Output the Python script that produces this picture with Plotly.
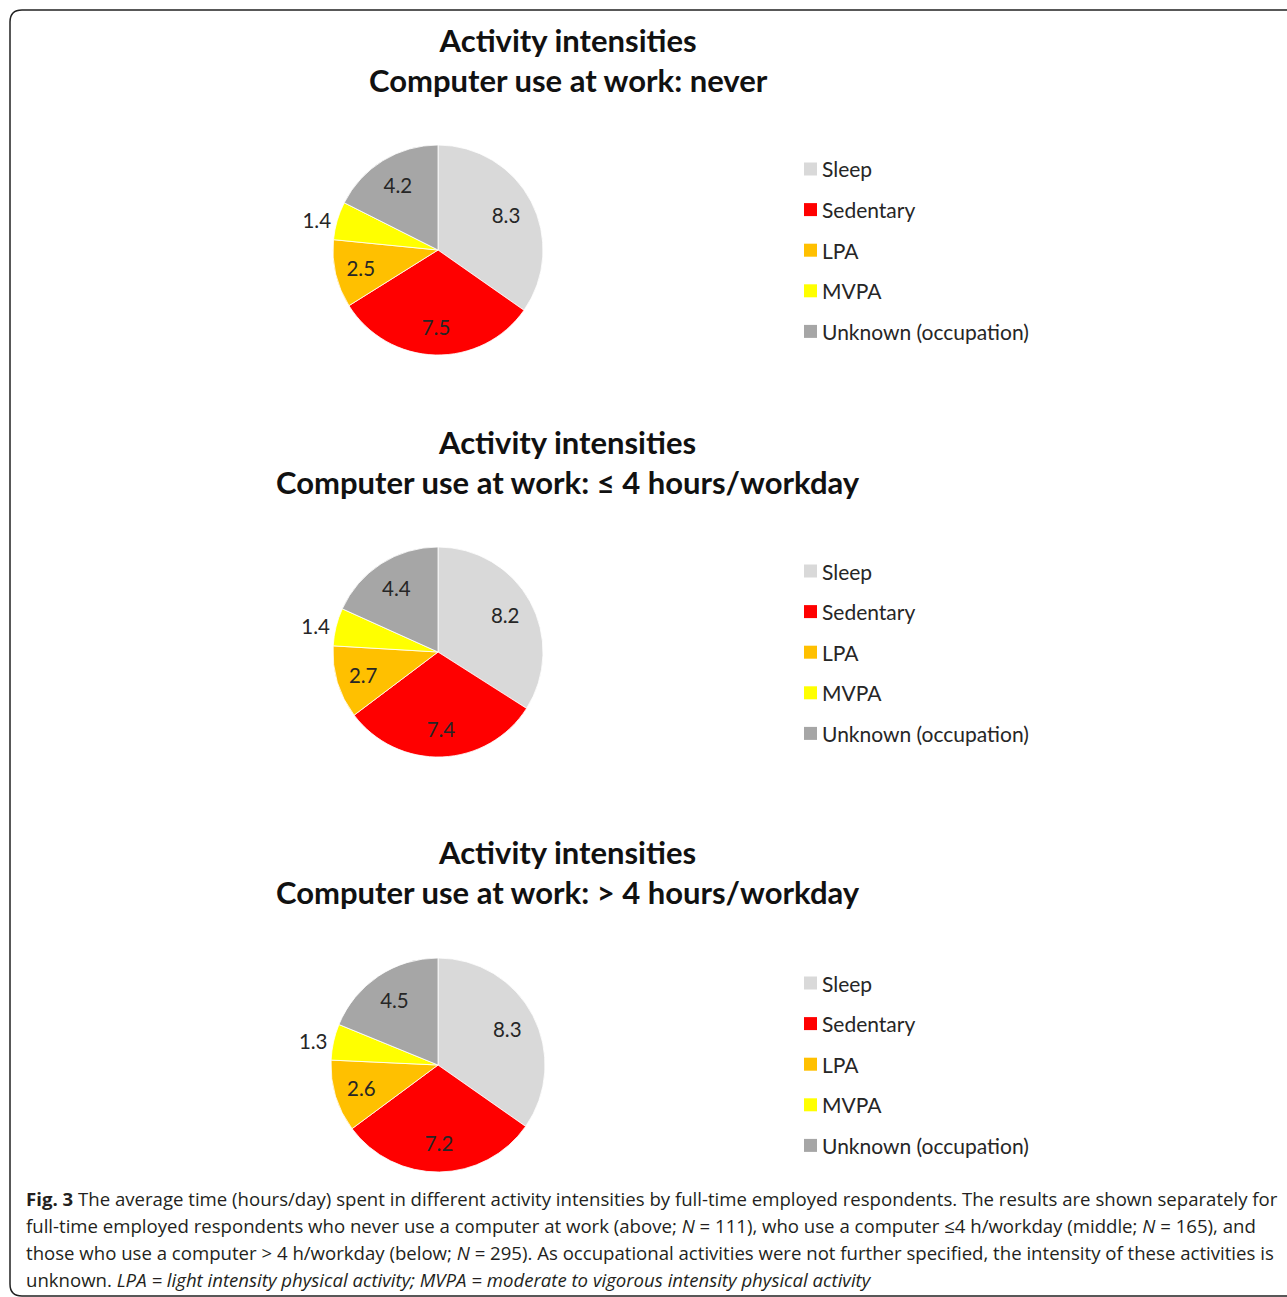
import plotly.graph_objects as go

W, H = 1287, 1297

categories = ["Sleep", "Sedentary", "LPA", "MVPA", "Unknown (occupation)"]
colors = ["#D9D9D9", "#FF0000", "#FFC000", "#FFFF00", "#A6A6A6"]
values_never = [8.3, 7.5, 2.5, 1.4, 4.2]
values_le4 = [8.2, 7.4, 2.7, 1.4, 4.4]
values_gt4 = [8.3, 7.2, 2.6, 1.3, 4.5]
text_positions = ["inside", "inside", "inside", "outside", "inside"]

titles = [
    "Activity intensities<br>Computer use at work: never",
    "Activity intensities<br>Computer use at work: ≤ 4 hours/workday",
    "Activity intensities<br>Computer use at work: > 4 hours/workday",
]

caption_lines = [
    "<b>Fig. 3</b> The average time (hours/day) spent in different activity intensities by full-time employed respondents. The results are shown separately for",
    "full-time employed respondents who never use a computer at work (above; <i>N</i> = 111), who use a computer ≤4 h/workday (middle; <i>N</i> = 165), and",
    "those who use a computer > 4 h/workday (below; <i>N</i> = 295). As occupational activities were not further specified, the intensity of these activities is",
    "unknown. <i>LPA = light intensity physical activity; MVPA = moderate to vigorous intensity physical activity</i>",
]

# layout (pixels)
pies = [
    dict(values=values_never, cx=438, cy=250, r=105, title_y=60, legend_y=169),
    dict(values=values_le4, cx=438, cy=652, r=105, title_y=462, legend_y=571),
    dict(values=values_gt4, cx=438, cy=1065, r=107, title_y=872, legend_y=983),
]
legend_step = 40.6
FONT = "Lato, Carlito, sans-serif"


def px(x):
    return x / W


def py(y):
    return 1 - y / H


fig = go.Figure()
annotations = []
shapes = []

for i, p in enumerate(pies):
    dom = dict(x=[px(p["cx"] - p["r"]), px(p["cx"] + p["r"])],
               y=[py(p["cy"] + p["r"]), py(p["cy"] - p["r"])])
    # filled slices
    fig.add_trace(go.Pie(
        labels=categories, values=p["values"], sort=False,
        direction="clockwise", rotation=0,
        marker=dict(colors=colors, line=dict(color="white", width=0.8)),
        textinfo="none", showlegend=False, hoverinfo="label+value",
        domain=dom,
    ))
    # value labels (annular layer places labels further out, like the original)
    fig.add_trace(go.Pie(
        labels=categories, values=p["values"], sort=False,
        direction="clockwise", rotation=0, hole=0.46,
        marker=dict(colors=["rgba(0,0,0,0)"] * len(categories),
                    line=dict(width=0)),
        textinfo="value", texttemplate="%{value:.1f}",
        textposition=text_positions,
        insidetextorientation="horizontal",
        textfont=dict(family=FONT, size=20.5, color="#262626"),
        showlegend=False, hoverinfo="skip",
        domain=dom,
    ))
    annotations.append(dict(
        x=px(568), y=py(p["title_y"]), xref="paper", yref="paper",
        text="<b>" + titles[i] + "</b>", showarrow=False,
        font=dict(family=FONT, size=31, color="#111111"),
        xanchor="center", yanchor="middle", align="center",
    ))
    for j, cat in enumerate(categories):
        yc = p["legend_y"] + j * legend_step
        shapes.append(dict(
            type="rect", xref="paper", yref="paper",
            x0=px(804), x1=px(817), y0=py(yc + 6.5), y1=py(yc - 6.5),
            fillcolor=colors[j], line=dict(width=0),
        ))
        annotations.append(dict(
            x=px(820), y=py(yc), xref="paper", yref="paper",
            text=cat, showarrow=False, xanchor="left", yanchor="middle",
            font=dict(family=FONT, size=21, color="#262626"),
        ))

cap_y0 = 1198
for k, line in enumerate(caption_lines):
    annotations.append(dict(
        x=px(24), y=py(cap_y0 + k * 27), xref="paper", yref="paper",
        text=line, showarrow=False, xanchor="left", yanchor="middle",
        font=dict(family="Open Sans, sans-serif", size=18.6, color="#231f20"),
    ))

# rounded border (open on the right)
x0, top, bot = px(10), py(10), py(1296)
rx, ry = 12 / W, 12 / H
path = (f"M 1.01,{top} L {x0 + rx},{top} Q {x0},{top} {x0},{top - ry} "
        f"L {x0},{bot + ry} Q {x0},{bot} {x0 + rx},{bot} L 1.01,{bot}")
shapes.append(dict(type="path", xref="paper", yref="paper", path=path,
                   line=dict(color="#222222", width=1.5)))

fig.update_layout(
    width=W, height=H,
    margin=dict(l=0, r=0, t=0, b=0),
    paper_bgcolor="white", plot_bgcolor="white",
    annotations=annotations, shapes=shapes,
)

fig.write_html("out.html")
